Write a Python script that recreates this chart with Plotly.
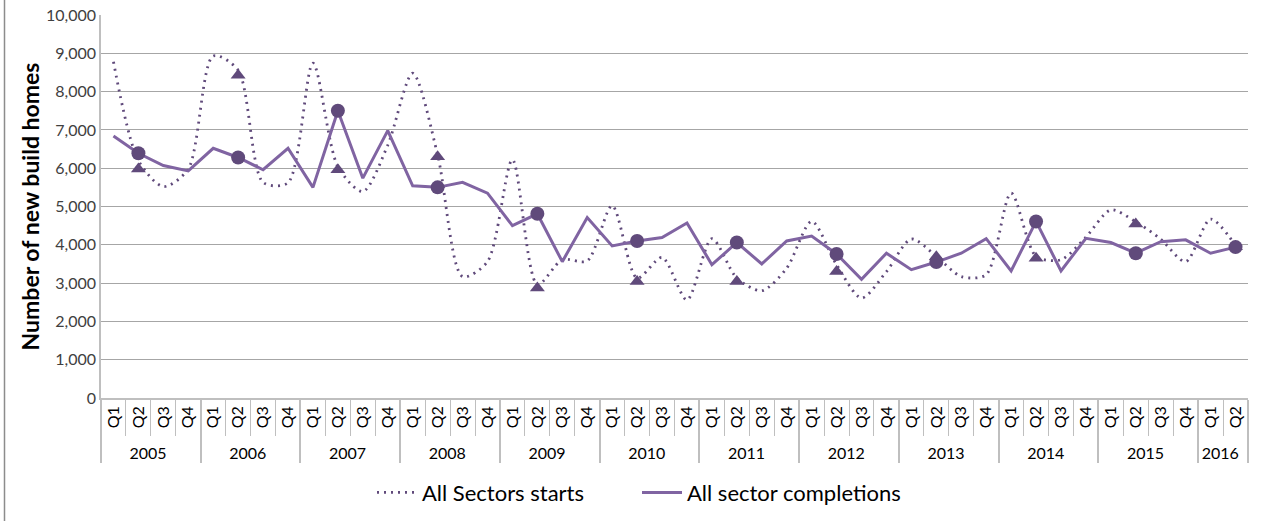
import plotly.graph_objects as go

YEARS = ["2005", "2006", "2007", "2008", "2009", "2010", "2011", "2012",
         "2013", "2014", "2015", "2016"]
QUARTERS = ["Q1", "Q2", "Q3", "Q4"]
N_QUARTERS_LAST_YEAR = 2

starts = [8780, 6200, 5520, 5980, 8930, 8560, 5630, 5620, 8740, 6040, 5390, 6600,
          8480, 6350, 3170, 3560, 6220, 2960, 3610, 3580, 5020, 3130, 3670, 2560,
          4160, 3130, 2800, 3390, 4610, 3480, 2610, 3300, 4150, 3700, 3170, 3220,
          5350, 3700, 3610, 4200, 4910, 4600, 4150, 3560, 4670, 3980]

completions = [6840, 6390, 6070, 5930, 6520, 6280, 5960, 6520, 5500, 7500, 5740, 6980,
               5540, 5500, 5630, 5350, 4500, 4810, 3560, 4710, 3970, 4100, 4190, 4570,
               3480, 4060, 3500, 4100, 4230, 3760, 3100, 3780, 3350, 3550, 3780, 4160,
               3320, 4610, 3320, 4170, 4060, 3780, 4080, 4130, 3780, 3940]

# Q2 markers on the starts series (as drawn)
starts_q2_markers = [5980, 8430, 5960, 6300, 2870, 3040, 3040, 3300, 3690, 3650, 4540, 3950]

year_lvl, q_lvl = [], []
for yi, y in enumerate(YEARS):
    nq = N_QUARTERS_LAST_YEAR if yi == len(YEARS) - 1 else 4
    for q in QUARTERS[:nq]:
        year_lvl.append(y)
        q_lvl.append(q)

q2_idx = [i for i, q in enumerate(q_lvl) if q == "Q2"]
q2_x = [[year_lvl[i] for i in q2_idx], [q_lvl[i] for i in q2_idx]]
comp_q2 = [completions[i] for i in q2_idx]

LINE = "#8064A2"
DARK = "#604A7B"
FONT = "Lato"

fig = go.Figure()
fig.add_trace(go.Scatter(
    x=[year_lvl, q_lvl], y=starts, mode="lines", name="All Sectors starts",
    line=dict(color=DARK, width=2.8, dash="2px,5px", shape="spline", smoothing=0.8),
))
fig.add_trace(go.Scatter(
    x=[year_lvl, q_lvl], y=completions, mode="lines", name="All sector completions",
    line=dict(color=LINE, width=3),
))
fig.add_trace(go.Scatter(
    x=q2_x, y=starts_q2_markers, mode="markers", showlegend=False,
    marker=dict(symbol="triangle-up", size=13, color=DARK),
))
fig.add_trace(go.Scatter(
    x=q2_x, y=comp_q2, mode="markers", showlegend=False,
    marker=dict(symbol="circle", size=14, color=DARK),
))

fig.update_layout(
    width=1264, height=521,
    margin=dict(l=101, r=16, t=15, b=123, autoexpand=False),
    paper_bgcolor="white", plot_bgcolor="white",
    font=dict(family=FONT, color="#000000"),
    showlegend=True,
    legend=dict(orientation="h", x=(372 - 101) / 1147, xanchor="left", y=-0.247, yanchor="middle",
                font=dict(size=22, family=FONT, color="#000000"),
                itemwidth=40, entrywidth=210, bgcolor="rgba(0,0,0,0)"),
    shapes=[dict(type="line", xref="paper", yref="paper",
                 x0=(4.5 - 101) / 1147, x1=(4.5 - 101) / 1147, y0=-0.33, y1=1.05,
                 line=dict(color="#8c8c8c", width=1.5))],
)

fig.update_yaxes(
    range=[0, 10000], dtick=1000, tickformat=",d", automargin=False,
    showgrid=True, gridcolor="#a6a6a6", gridwidth=1,
    zeroline=False, showline=True, linecolor="#bfbfbf", linewidth=1.5,
    ticks="", tickfont=dict(size=16, family=FONT, color="#404040"),
    title=dict(text="<b>Number of new build homes</b>", font=dict(size=23, family=FONT, color="#000000"),
               standoff=0),
)
fig.update_xaxes(
    type="multicategory", automargin=False, range=[-0.5, 45.5],
    showline=True, linecolor="#bfbfbf", linewidth=1.5,
    ticks="outside", tickson="boundaries", ticklen=36, tickcolor="#bfbfbf", tickwidth=1,
    tickangle=-90, tickfont=dict(size=16, family=FONT, color="#000000"),
    dividercolor="#bfbfbf", dividerwidth=1.5,
    showgrid=False,
)

fig.write_html("out.html", config={"displayModeBar": False},
               post_script="document.body.style.margin='0px';")
